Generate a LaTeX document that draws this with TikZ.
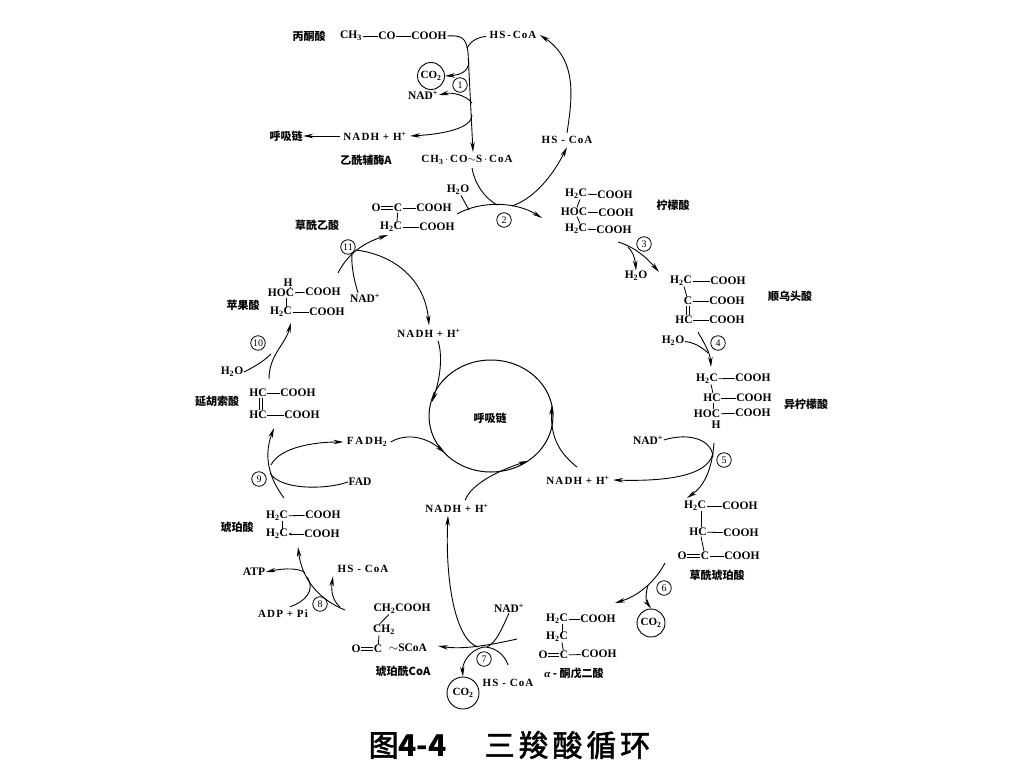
\documentclass[tikz,border=0pt]{standalone}
\usepackage{fontspec}
\setmainfont{Liberation Serif}
\newfontfamily\cjk{Noto Sans CJK SC}
\newfontfamily\cjktitle[FakeBold=2]{Noto Sans CJK SC}
\usetikzlibrary{shapes.geometric,positioning,calc,arrows.meta}

\begin{document}
\begin{tikzpicture}[
    x=1pt, y=-1pt,
    chem/.style={inner sep=0.5pt, font=\bfseries\fontsize{11.5}{12}\selectfont},
    chemwide/.style={inner sep=0.5pt, outer sep=3pt, font=\bfseries\fontsize{11}{12}\selectfont\addfontfeature{LetterSpace=10}},
    cnlabel/.style={inner sep=0.5pt, font=\cjk\bfseries\fontsize{11}{12}\selectfont},
    stepnum/.style={shape=circle, draw, line width=0.8pt, inner sep=0pt, minimum size=14.5pt, font=\fontsize{10}{12}\selectfont},
    gas/.style={shape=circle, draw, line width=0.9pt, inner sep=0pt, font=\bfseries\fontsize{11}{12}\selectfont},
    bond/.style={line width=0.8pt},
    edge/.style={line width=0.9pt},
    flow/.style={edge, -{Stealth[length=10pt,width=4.5pt]}}
]
    \useasboundingbox (0,0) rectangle (1024,768);

    % Pyruvate and acetyl CoA
    \node[cnlabel] (Pyruvate) at (309,36) {丙酮酸};
    \node[chem] (PyrA) at (351,36) {CH\textsubscript{3}};
    \node[chem] (PyrB) at (387,36) {CO};
    \node[chem] (PyrC) at (429,36) {COOH};
    \node[chemwide] (HSCoAa) at (513,35) {HS\,-\,CoA};
    \node[gas, minimum size=27pt] (COa) at (431,76) {CO\textsubscript{2}};
    \node[stepnum] (StepA) at (460,85) {1};
    \node[chem] (NADa) at (423,95) {NAD\textsuperscript{+}};
    \node[chemwide] (NADHa) at (375,136) {NADH + H\textsuperscript{+}};
    \node[cnlabel] (ChainA) at (286,136) {呼吸链};
    \node[cnlabel] (AcCoA) at (366,160) {乙酰辅酶A};
    \node[chemwide] (AcCoAf) at (467,160) {CH\textsubscript{3}\,$\cdot$\,CO$\sim$S\,$\cdot$\,CoA};
    \node[chemwide] (HSCoAb) at (567,140) {HS - CoA};
    \node[chem] (H2Oa) at (458,190) {H\textsubscript{2}O};
    \node[stepnum] (StepB) at (504,220) {2};

    % Oxaloacetate
    \node[cnlabel] (Oxalo) at (317,225) {草酰乙酸};
    \node[chem] (OxO) at (376,208) {O};
    \node[chem] (OxA) at (398,208) {C};
    \node[chem] (OxAc) at (434,208) {COOH};
    \node[chem] (OxB) at (391,227) {H\textsubscript{2}C};
    \node[chem] (OxBc) at (437,227) {COOH};

    % Citrate
    \node[chem] (CitA) at (576,194) {H\textsubscript{2}C};
    \node[chem] (CitAc) at (615,195) {COOH};
    \node[chem] (CitB) at (574,212) {HOC};
    \node[chem] (CitBc) at (616,213) {COOH};
    \node[chem] (CitC) at (576,229) {H\textsubscript{2}C};
    \node[chem] (CitCc) at (614,230) {COOH};
    \node[cnlabel] (Citrate) at (673,205) {柠檬酸};
    \node[stepnum] (StepC) at (644,244) {3};
    \node[chem] (H2Ob) at (636,276) {H\textsubscript{2}O};

    % Aconitate
    \node[chem] (AcoA) at (681,281) {H\textsubscript{2}C};
    \node[chem] (AcoAc) at (728,281) {COOH};
    \node[chem] (AcoB) at (688,301) {C};
    \node[chem] (AcoBc) at (727,301) {COOH};
    \node[chem] (AcoC) at (684,320) {HC};
    \node[chem] (AcoCc) at (727,320) {COOH};
    \node[cnlabel] (Aconitate) at (790,296) {顺乌头酸};
    \node[chem] (H2Oc) at (673,341) {H\textsubscript{2}O};
    \node[stepnum] (StepD) at (718,343) {4};

    % Isocitrate
    \node[chem] (IsoA) at (707,379) {H\textsubscript{2}C};
    \node[chem] (IsoAc) at (753,378) {COOH};
    \node[chem] (IsoB) at (712,398) {HC};
    \node[chem] (IsoBc) at (754,398) {COOH};
    \node[chem] (IsoC) at (707,414) {HOC};
    \node[chem] (IsoCc) at (753,413) {COOH};
    \node[chem] (IsoH) at (716,425) {H};
    \node[cnlabel] (Isocitrate) at (806,404) {异柠檬酸};
    \node[chem] (NADb) at (648,440) {NAD\textsuperscript{+}};
    \node[stepnum] (StepE) at (724,460) {5};
    \node[chemwide] (NADHb) at (578,480) {NADH + H\textsuperscript{+}};

    % Oxalosuccinate
    \node[chem] (OxsA) at (695,506) {H\textsubscript{2}C};
    \node[chem] (OxsAc) at (740,506) {COOH};
    \node[chem] (OxsB) at (698,532) {HC};
    \node[chem] (OxsBc) at (741,533) {COOH};
    \node[chem] (OxsO) at (682,556) {O};
    \node[chem] (OxsC) at (705,556) {C};
    \node[chem] (OxsCc) at (742,556) {COOH};
    \node[cnlabel] (Oxalosucc) at (717,575) {草酰琥珀酸};
    \node[stepnum] (StepF) at (664,588) {6};
    \node[gas, minimum size=28pt] (COb) at (651,623) {CO\textsubscript{2}};

    % Ketoglutarate
    \node[chem] (KetA) at (557,619) {H\textsubscript{2}C};
    \node[chem] (KetAc) at (598,619) {COOH};
    \node[chem] (KetB) at (557,637) {H\textsubscript{2}C};
    \node[chem] (KetO) at (543,655) {O};
    \node[chem] (KetC) at (564,655) {C};
    \node[chem] (KetCc) at (599,654) {COOH};
    \node[cnlabel] (Ketoglut) at (574,673) {{\rmfamily\itshape α} - 酮戊二酸};

    % Succinyl CoA
    \node[chem] (NADc) at (509,608) {NAD\textsuperscript{+}};
    \node[stepnum] (StepG) at (484,659) {7};
    \node[chemwide] (HSCoAc) at (508,683) {HS - CoA};
    \node[gas, minimum size=32pt] (COc) at (463,693) {CO\textsubscript{2}};
    \node[chemwide] (NADHc) at (457,508) {NADH + H\textsuperscript{+}};
    \node[chem] (SucA) at (402,609) {CH\textsubscript{2}COOH};
    \node[chem] (SucB) at (384,630) {CH\textsubscript{2}};
    \node[chem] (SucO) at (356,649) {O};
    \node[chem] (SucC) at (378,649) {C};
    \node[chem] (SucS) at (408,648) {$\sim$SCoA};
    \node[cnlabel] (SuccCoA) at (403,671) {琥珀酰CoA};

    % Succinate
    \node[stepnum] (StepH) at (320,604) {8};
    \node[chem] (ATP) at (254,572) {ATP};
    \node[chemwide] (ADP) at (283,614) {ADP + Pi};
    \node[chemwide] (HSCoAd) at (363,569) {HS - CoA};
    \node[chem] (SuaA) at (277,516) {H\textsubscript{2}C};
    \node[chem] (SuaAc) at (323,515) {COOH};
    \node[chem] (SuaB) at (277,534) {H\textsubscript{2}C};
    \node[chem] (SuaBc) at (322,534) {COOH};
    \node[cnlabel] (Succinate) at (237,527) {琥珀酸};
    \node[stepnum] (StepI) at (259,479) {9};
    \node[chem] (FAD) at (360,482) {FAD};
    \node[chemwide] (FADH) at (367,442) {F\,A\,DH\textsubscript{2}};

    % Fumarate and malate
    \node[chem] (FumA) at (258,393) {HC};
    \node[chem] (FumAc) at (298,393) {COOH};
    \node[chem] (FumB) at (258,415) {HC};
    \node[chem] (FumBc) at (302,415) {COOH};
    \node[cnlabel] (Fumarate) at (217,401) {延胡索酸};
    \node[chem] (H2Od) at (232,372) {H\textsubscript{2}O};
    \node[stepnum] (StepJ) at (258,343) {10};
    \node[chem] (MalH) at (288,283) {H};
    \node[chem] (MalA) at (281,293) {HOC};
    \node[chem] (MalAc) at (323,292) {COOH};
    \node[chem] (MalB) at (281,312) {H\textsubscript{2}C};
    \node[chem] (MalBc) at (327,312) {COOH};
    \node[cnlabel] (Malate) at (243,305) {苹果酸};
    \node[stepnum] (StepK) at (348,247) {11};
    \node[chem] (NADd) at (365,298) {NAD\textsuperscript{+}};
    \node[chemwide] (NADHd) at (429,333) {NADH + H\textsuperscript{+}};

    % Respiratory chain
    \node[shape=ellipse, draw, line width=1pt, minimum width=124pt, minimum height=112pt, inner sep=0pt] (Ring) at (491,416) {};
    \node[cnlabel] (ChainB) at (490,418) {呼吸链};
    \node[inner sep=0pt, font=\cjktitle\fontsize{30}{32}\selectfont] (Title) at (509.5,745) {图{\cjk\bfseries 4-4}\hspace{38pt}{\addfontfeature{LetterSpace=13}三羧酸循环}};

    % Bonds
    \draw[bond] (PyrA) -- (PyrB);
    \draw[bond] (PyrB) -- (PyrC);
    \draw[bond] ([yshift=-1.2]OxO.east) -- ([yshift=-1.2]OxA.west);
    \draw[bond] ([yshift=1.2]OxO.east) -- ([yshift=1.2]OxA.west);
    \draw[bond] (OxA) -- (OxAc);
    \draw[bond] (OxB) -- (OxBc);
    \draw[bond] (OxA) -- ([xshift=6]OxB.north);
    \draw[bond] (CitA) -- (CitAc);
    \draw[bond] (CitB) -- (CitBc);
    \draw[bond] (CitC) -- (CitCc);
    \draw[bond] ([xshift=4]CitA.south) -- ([xshift=3]CitB.north);
    \draw[bond] ([xshift=3]CitB.south) -- ([xshift=4]CitC.north);
    \draw[bond] (AcoA) -- (AcoAc);
    \draw[bond] (AcoB) -- (AcoBc);
    \draw[bond] (AcoC) -- (AcoCc);
    \draw[bond] ([xshift=3]AcoA.south) -- (AcoB);
    \draw[bond] ([xshift=-1.2]AcoB.south) -- ([xshift=2.8]AcoC.north);
    \draw[bond] ([xshift=1.2]AcoB.south) -- ([xshift=5.2]AcoC.north);
    \draw[bond] (IsoA) -- (IsoAc);
    \draw[bond] (IsoB) -- (IsoBc);
    \draw[bond] (IsoC) -- (IsoCc);
    \draw[bond] ([xshift=4]IsoA.south) -- ([xshift=1]IsoB.north);
    \draw[bond] ([xshift=1]IsoB.south) -- ([xshift=6]IsoC.north);
    \draw[bond] (OxsA) -- (OxsAc);
    \draw[bond] (OxsB) -- (OxsBc);
    \draw[bond] ([xshift=6]OxsA.south) -- ([xshift=3]OxsB.north);
    \draw[bond] ([xshift=3]OxsB.south) -- (OxsC);
    \draw[bond] ([yshift=-1.2]OxsO.east) -- ([yshift=-1.2]OxsC.west);
    \draw[bond] ([yshift=1.2]OxsO.east) -- ([yshift=1.2]OxsC.west);
    \draw[bond] (OxsC) -- (OxsCc);
    \draw[bond] (KetA) -- (KetAc);
    \draw[bond] ([xshift=5]KetA.south) -- ([xshift=5]KetB.north);
    \draw[bond] ([xshift=5]KetB.south) -- (KetC);
    \draw[bond] ([yshift=-1.2]KetO.east) -- ([yshift=-1.2]KetC.west);
    \draw[bond] ([yshift=1.2]KetO.east) -- ([yshift=1.2]KetC.west);
    \draw[bond] (KetC) -- (KetCc);
    \draw[bond] ([xshift=-13]SucA.south) -- ([xshift=-5]SucB.north);
    \draw[bond] ([xshift=-5]SucB.south) -- (SucC);
    \draw[bond] ([yshift=-1.2]SucO.east) -- ([yshift=-1.2]SucC.west);
    \draw[bond] ([yshift=1.2]SucO.east) -- ([yshift=1.2]SucC.west);
    \draw[bond] ([xshift=5]SuaA.south) -- ([xshift=5]SuaB.north);
    \draw[bond] (SuaA) -- (SuaAc);
    \draw[bond, -{Stealth[length=3pt,width=3pt]}] (SuaBc) -- (SuaB);
    \draw[bond] (FumA) -- (FumAc);
    \draw[bond] (FumB) -- (FumBc);
    \draw[bond] ([xshift=1.8]FumA.south) -- ([xshift=1.8]FumB.north);
    \draw[bond] ([xshift=4.2]FumA.south) -- ([xshift=4.2]FumB.north);
    \draw[bond] ([xshift=2]MalH.south) -- ([xshift=9]MalA.north);
    \draw[bond] (MalA) -- (MalAc);
    \draw[bond] (MalB) -- (MalBc);
    \draw[bond] ([xshift=5]MalA.south) -- ([xshift=5]MalB.north);

    % Step 1
    \coordinate (JoinA) at (467,48);
    \coordinate (JoinB) at (469,62);
    \coordinate (JoinC) at (472,103);
    \coordinate (JoinD) at (472,115);
    \draw[flow] (PyrC.east) .. controls (462,35) and (466,38) .. (468,52) -- (AcCoAf.north -| 473,0);
    \draw[edge] (HSCoAa) .. controls (477,37) and (470,42) .. (JoinA);
    \draw[flow] (JoinB) .. controls (468,72) and (460,75) .. (COa.east);
    \draw[flow] (JoinC) .. controls (466,95) and (452,92) .. (NADa.east);
    \draw[flow] (JoinD) .. controls (472,128) and (445,134) .. (NADHa.east);
    \draw[flow] (NADHa) -- (ChainA);

    % Step 2
    \coordinate (JoinE) at (497,205);
    \coordinate (JoinF) at (512,206);
    \coordinate (JoinG) at (469,210);
    \coordinate (OxEnd) at (457,214);
    \coordinate (CitEnd) at (542,218);
    \draw[edge] (AcCoAf.south -| 472,0) .. controls (475,185) and (485,198) .. (JoinE);
    \draw[flow] (OxEnd) .. controls (480,201) and (515,201) .. (CitEnd);
    \draw[edge] (H2Oa) -- (JoinG);
    \draw[flow] (JoinF) .. controls (535,198) and (553,175) .. (HSCoAb.south);
    \draw[flow] (HSCoAb.north) .. controls (572,100) and (578,60) .. (HSCoAa.east);

    % Step 3
    \coordinate (CitOut) at (618,242);
    \coordinate (AcoIn) at (659,272);
    \coordinate (JoinH) at (628,247);
    \draw[flow] (CitOut) .. controls (635,247) and (647,258) .. (AcoIn);
    \draw[flow] (JoinH) .. controls (633,252) and (635,258) .. (H2Ob.north);

    % Step 4
    \coordinate (AcoOut) at (698,332);
    \coordinate (IsoIn) at (711,367);
    \coordinate (JoinI) at (708,353);
    \draw[flow] (AcoOut) .. controls (704,343) and (710,352) .. (IsoIn);
    \draw[edge] (H2Oc) .. controls (693,342) and (702,347) .. (JoinI);

    % Step 5
    \coordinate (IsoOut) at (714,443);
    \coordinate (OxsIn) at (687,498);
    \coordinate (JoinU) at (713,457);
    \coordinate (JoinV) at (713,453);
    \draw[flow] (IsoOut) .. controls (712,470) and (704,486) .. (OxsIn);
    \draw[edge] (NADb.east) .. controls (690,432) and (712,440) .. (JoinU);
    \draw[flow] (JoinV) .. controls (708,480) and (650,481) .. (NADHb.east);

    % Step 6
    \coordinate (OxsOut) at (665,563);
    \coordinate (KetIn) at (615,603);
    \coordinate (JoinJ) at (648,585);
    \draw[flow] (OxsOut) .. controls (655,582) and (638,596) .. (KetIn);
    \draw[flow] (JoinJ) .. controls (646,592) and (645,600) .. (COb.north);

    % Step 7
    \coordinate (KetOut) at (517,639);
    \coordinate (SucIn) at (438,646);
    \coordinate (JoinK) at (478,647);
    \coordinate (JoinL) at (487,647);
    \coordinate (HSEnd) at (508,665);
    \draw[flow] (KetOut) .. controls (495,644) and (465,650) .. (SucIn);
    \draw[edge] (NADc.south) .. controls (502,628) and (497,642) .. (JoinL);
    \draw[flow] (HSEnd) .. controls (505,655) and (495,647) .. (484,647) .. controls (468,650) and (462,665) .. (COc.north);
    \draw[flow] (JoinK) .. controls (455,640) and (445,580) .. (NADHc.south -| 448,0);

    % Step 8
    \coordinate (SucOut) at (345,610);
    \coordinate (SuaIn) at (298,547);
    \coordinate (JoinM) at (305,573);
    \coordinate (JoinN) at (340,607);
    \coordinate (JoinO) at (307,577);
    \draw[flow] (SucOut) .. controls (320,600) and (302,580) .. (SuaIn);
    \draw[flow] (JoinM) .. controls (300,568) and (285,568) .. (ATP.east);
    \draw[edge] (ADP.north -| 290,0) .. controls (305,602) and (316,590) .. (JoinO);
    \draw[flow] (JoinN) .. controls (332,600) and (331,590) .. (HSCoAd.south -| 333,0);

    % Step 9
    \coordinate (SuaOut) at (284,498);
    \coordinate (FumIn) at (274,428);
    \coordinate (JoinP) at (270,473);
    \coordinate (JoinQ) at (271,465);
    \draw[flow] (SuaOut) .. controls (272,482) and (262,460) .. (FumIn);
    \draw[edge] (FAD.west) .. controls (325,490) and (280,490) .. (JoinP);
    \draw[flow] (JoinQ) .. controls (280,447) and (315,442) .. (FADH.west);

    % Step 10
    \coordinate (FumOut) at (269,379);
    \coordinate (MalIn) at (291,323);
    \coordinate (JoinR) at (271,354);
    \draw[flow] (FumOut) .. controls (269,355) and (285,345) .. (MalIn);
    \draw[edge] (H2Od.east) .. controls (252,368) and (263,362) .. (JoinR);

    % Step 11
    \coordinate (MalOut) at (338,273);
    \coordinate (OxIn) at (388,235);
    \coordinate (JoinS) at (352,253);
    \coordinate (JoinT) at (356,250);
    \draw[flow] (MalOut) .. controls (346,257) and (360,244) .. (OxIn);
    \draw[edge] (NADd.north -| 358,0) .. controls (354,280) and (351,265) .. (JoinS);
    \draw[flow] (JoinT) .. controls (395,255) and (425,280) .. (NADHd.north);

    % Into the chain
    \coordinate (RingW) at (432,402);
    \coordinate (RingS) at (445,453);
    \coordinate (RingE) at (528,461);
    \coordinate (RingN) at (552,405);
    \coordinate (NADHbIn) at (577,467);
    \draw[flow] (NADHd.south -| 438,0) .. controls (444,360) and (438,385) .. (RingW);
    \draw[flow] (FADH.east) .. controls (410,431) and (430,440) .. (RingS);
    \draw[flow] (NADHc.north -| 465,0) .. controls (472,483) and (500,470) .. (RingE);
    \draw[flow] (NADHbIn) .. controls (562,455) and (550,440) .. (RingN);
\end{tikzpicture}
\end{document}
